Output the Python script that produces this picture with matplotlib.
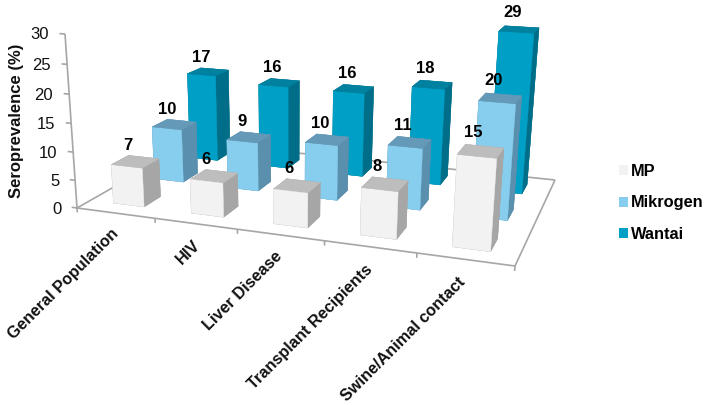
import numpy as np
import matplotlib
matplotlib.use("Agg")
import matplotlib.pyplot as plt
from matplotlib.patches import Patch
from mpl_toolkits.mplot3d import proj3d
from mpl_toolkits.mplot3d.art3d import Line3DCollection

plt.rcParams['font.family'] = ['Liberation Sans', 'DejaVu Sans']

categories = ["General Population", "HIV", "Liver Disease", "Transplant Recipients", "Swine/Animal contact"]
series_names = ["MP", "Mikrogen", "Wantai"]
mp = [7, 6, 6, 8, 15]
mikrogen = [10, 9, 10, 11, 20]
wantai = [17, 16, 16, 18, 29]
series_values = [mp, mikrogen, wantai]
value_ticks = [0, 5, 10, 15, 20, 25, 30]

# face colours: bottom, top, front, back, left, right
front_colors = ["#F2F2F2", "#87CEEE", "#00A0C6"]
top_colors = ["#BDBDBD", "#6499B8", "#00819F"]
side_colors = ["#A6A6A6", "#5B8FAE", "#006E88"]
axis_color = "#A6A6A6"
text_color = "#111111"
label_shift = [0.23, 0.20, 0.12, 0.08, 0.01]

W, H = 708, 405
fig = plt.figure(figsize=(W / 100, H / 100), dpi=100, facecolor="white")
ax = fig.add_axes([0, (H - W) / 2 / H, 1, W / H], projection="3d")
ax.set_axis_off()
ax.patch.set_visible(False)
ax.computed_zorder = False
ax.apply_aspect()

# Camera calibration (floor corners and vertical vanishing point, image pixels)
n_cat, n_ser, z_top = len(categories), len(series_names), value_ticks[-1]
floor_world = [(0, 0), (n_cat, 0), (n_cat, n_ser), (0, n_ser)]
floor_px = [(77, 208), (515, 266), (555, 180), (193, 142)]
vanish_px = (290, 3300)
top_px = (65, 34)


def disp(p):
    return p[0], H - p[1]


rows, rhs = [], []
for (u, v), p in zip(floor_world, floor_px):
    X, Y = disp(p)
    rows.append([u, v, 1, 0, 0, 0, -u * X, -v * X])
    rhs.append(X)
    rows.append([0, 0, 0, u, v, 1, -u * Y, -v * Y])
    rhs.append(Y)
h = np.linalg.solve(np.array(rows, float), np.array(rhs, float))
p1 = np.array([h[0], h[3], h[6]])
p2 = np.array([h[1], h[4], h[7]])
p4 = np.array([h[2], h[5], 1.0])
vx, vy = disp(vanish_px)
_, ty = disp(top_px)
s = (ty * p4[2] - p4[1]) / (z_top * (vy - ty))
p3 = s * np.array([vx, vy, 1.0])

A = ax.transData.inverted().get_matrix()
P = A @ np.column_stack([p1, p2, p3, p4])
M = np.array([
    P[0],
    P[1],
    [-0.3, 1.0, -0.05, 5.0],
    P[2],
])
ax.get_proj = lambda: M


def label3d(x, y, z, text, **kw):
    """Place a text at a projected 3D position, keeping its own rotation."""
    lx, ly, _ = proj3d.proj_transform(x, y, z, M)
    return ax.text2D(float(lx), float(ly), text, transform=ax.transData, **kw)


# Bars
bar_w = 0.4
offset = (1 - bar_w) / 2
order = 10
for j in reversed(range(n_ser)):
    colors = [side_colors[j], top_colors[j], front_colors[j],
              side_colors[j], side_colors[j], side_colors[j]]
    for i, val in enumerate(series_values[j]):
        col = ax.bar3d(i + offset, j + offset, 0, bar_w, bar_w, val,
                       color=colors, edgecolor=colors, linewidth=0.3, shade=False)
        col.set_zorder(order)
        order += 1

# Floor, value axis and ticks
corner_x = [0, n_cat, n_cat, 0, 0]
corner_y = [0, 0, n_ser, n_ser, 0]
segments = [[(corner_x[k], corner_y[k], 0), (corner_x[k + 1], corner_y[k + 1], 0)] for k in range(4)]
segments.append([(0, 0, 0), (0, 0, z_top)])
segments += [[(0, 0, t), (-0.07, 0, t)] for t in value_ticks]
segments += [[(i, 0, 0), (i, 0, -0.8)] for i in range(n_cat + 1)]
axis_lines = Line3DCollection(segments, colors=axis_color, linewidths=1.2, zorder=2)
ax.add_collection3d(axis_lines)

for t in value_ticks:
    label3d(-0.14, -0.1, t, str(t), ha="right", va="center", fontsize=12,
            color=text_color, zorder=200)

# Category labels
for i, name in enumerate(categories):
    label3d(i + 0.58 + label_shift[i], -0.52, 0, name, ha="right", va="center", rotation=45,
            rotation_mode="anchor", fontsize=11.7, fontweight="bold",
            color=text_color, zorder=200)

# Data labels
for j in range(n_ser):
    for i, val in enumerate(series_values[j]):
        label3d(i + 0.41, j + 0.5, val + 2.8, str(val), ha="center", va="center",
                fontsize=12, fontweight="bold", color="black", zorder=300)

fig.text(17 / W, 1 - 121 / H, "Seroprevalence (%)", rotation=90, ha="center", va="center",
         fontsize=12, fontweight="bold", color=text_color)

handles = [Patch(facecolor=c, edgecolor="none") for c in front_colors]
fig.legend(handles, series_names, loc="center left", bbox_to_anchor=(606 / W, 1 - 203 / H),
           frameon=False, prop=dict(size=11.8, weight="bold"), handlelength=0.55, handleheight=0.55,
           handletextpad=0.18, labelspacing=1.0, borderpad=0.3)

fig.savefig("out.png", dpi=100)
